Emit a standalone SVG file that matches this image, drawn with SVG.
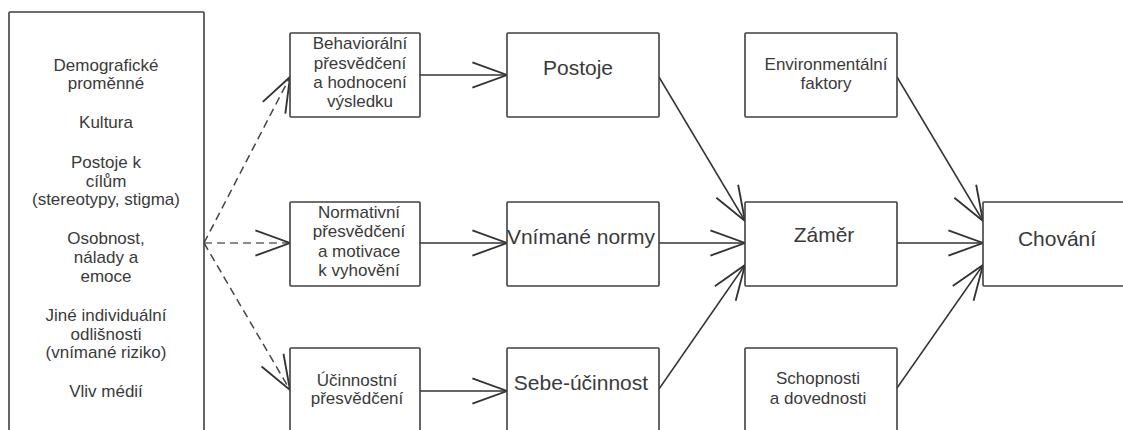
<svg xmlns="http://www.w3.org/2000/svg" width="1123" height="430" viewBox="0 0 1123 430">
<defs>
<style>
.box{fill:#fff;stroke:#404040;stroke-width:1.6}
.t{font-family:"Liberation Sans",Arial,sans-serif;font-size:17px;fill:#3a3a3a;text-anchor:middle}
.big{font-size:21px}
.c{fill:none;stroke:#333;stroke-width:1.5}
.d{stroke-dasharray:8 5;stroke:#444}
</style>
<marker id="arr" markerUnits="userSpaceOnUse" markerWidth="40" markerHeight="30" viewBox="-32 -13 34 26" refX="0" refY="0" orient="auto" overflow="visible">
<path d="M-30,-11 L0,0 L-30,11" fill="none" stroke="#333" stroke-width="1.6"/>
</marker>
</defs>
<rect width="1123" height="430" fill="#fff"/>
<g id="connectors">
<line class="c d" x1="204" y1="243" x2="290" y2="77" marker-end="url(#arr)"/>
<line class="c d" x1="204" y1="243" x2="290" y2="243" marker-end="url(#arr)" style="stroke:#666"/>
<line class="c d" x1="204" y1="243" x2="290" y2="390" marker-end="url(#arr)"/>
<line class="c" x1="420" y1="75" x2="507" y2="75" marker-end="url(#arr)"/>
<line class="c" x1="420" y1="243" x2="507" y2="243" marker-end="url(#arr)"/>
<line class="c" x1="420" y1="391" x2="507" y2="391" marker-end="url(#arr)"/>
<line class="c" x1="659" y1="77" x2="745" y2="221" marker-end="url(#arr)"/>
<line class="c" x1="659" y1="243" x2="745" y2="243" marker-end="url(#arr)"/>
<line class="c" x1="659" y1="389" x2="745" y2="265" marker-end="url(#arr)"/>
<line class="c" x1="897" y1="77" x2="983" y2="221" marker-end="url(#arr)"/>
<line class="c" x1="897" y1="243" x2="983" y2="243" marker-end="url(#arr)"/>
<line class="c" x1="897" y1="388" x2="983" y2="265" marker-end="url(#arr)"/>
</g>
<g id="factors">
<rect class="box" x="9" y="12" width="195" height="430" rx="1"/>
<text class="t" x="106" y="71">Demografické</text>
<text class="t" x="106" y="89">proměnné</text>
<text class="t" x="106" y="128">Kultura</text>
<text class="t" x="106" y="168">Postoje k</text>
<text class="t" x="106" y="187">cílům</text>
<text class="t" x="106" y="205">(stereotypy, stigma)</text>
<text class="t" x="106" y="244">Osobnost,</text>
<text class="t" x="106" y="263">nálady a</text>
<text class="t" x="106" y="282">emoce</text>
<text class="t" x="106" y="321">Jiné individuální</text>
<text class="t" x="106" y="340">odlišnosti</text>
<text class="t" x="106" y="358">(vnímané riziko)</text>
<text class="t" x="106" y="397">Vliv médií</text>
</g>
<g id="behavioral">
<rect class="box" x="290" y="33" width="130" height="84" rx="1"/>
<text class="t" x="360" y="49">Behaviorální</text>
<text class="t" x="360" y="69">přesvědčení</text>
<text class="t" x="360" y="88">a hodnocení</text>
<text class="t" x="360" y="107">výsledku</text>
</g>
<g id="normative">
<rect class="box" x="290" y="202" width="130" height="84" rx="1"/>
<text class="t" x="359" y="218">Normativní</text>
<text class="t" x="359" y="237">přesvědčení</text>
<text class="t" x="359" y="257">a motivace</text>
<text class="t" x="359" y="276">k vyhovění</text>
</g>
<g id="efficacy-beliefs">
<rect class="box" x="290" y="348" width="130" height="100" rx="1"/>
<text class="t" x="357" y="386">Účinnostní</text>
<text class="t" x="357" y="404">přesvědčení</text>
</g>
<g id="attitudes">
<rect class="box" x="507" y="33" width="152" height="84" rx="1"/>
<text class="t big" x="578" y="75">Postoje</text>
</g>
<g id="norms">
<rect class="box" x="507" y="202" width="152" height="84" rx="1"/>
<text class="t big" x="581" y="244">Vnímané normy</text>
</g>
<g id="self-efficacy">
<rect class="box" x="507" y="348" width="152" height="100" rx="1"/>
<text class="t big" x="581" y="390">Sebe-účinnost</text>
</g>
<g id="environment">
<rect class="box" x="745" y="33" width="152" height="84" rx="1"/>
<text class="t" x="826" y="70">Environmentální</text>
<text class="t" x="826" y="89">faktory</text>
</g>
<g id="intention">
<rect class="box" x="745" y="202" width="152" height="84" rx="1"/>
<text class="t big" x="824" y="242">Záměr</text>
</g>
<g id="skills">
<rect class="box" x="745" y="348" width="152" height="100" rx="1"/>
<text class="t" x="818" y="384">Schopnosti</text>
<text class="t" x="818" y="404">a dovednosti</text>
</g>
<g id="behavior">
<rect class="box" x="983" y="202" width="160" height="84" rx="1"/>
<text class="t big" x="1057" y="246">Chování</text>
</g>
</svg>
